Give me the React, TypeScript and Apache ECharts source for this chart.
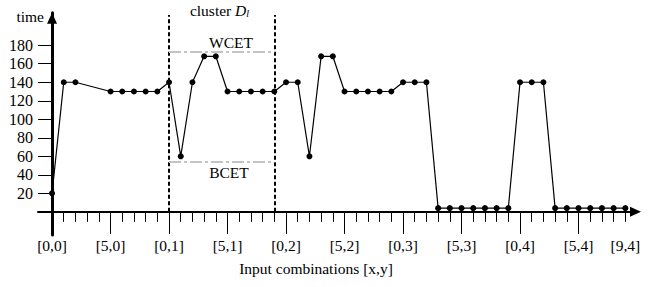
import React, { useEffect, useRef } from 'react';
import * as echarts from 'echarts';

// Execution time per input combination index (null = no measured point)
const timeValues: (number | null)[] = [
  20, 140, 140, null, null, 130, 130, 130, 130, 130,
  140, 60, 140, 168, 168, 130, 130, 130, 130, 130,
  140, 140, 60, 168, 168, 130, 130, 130, 130, 130,
  140, 140, 140, 4, 4, 4, 4, 4, 4, 4,
  140, 140, 140, 4, 4, 4, 4, 4, 4, 4,
];
const xLabelIndices = [0, 5, 10, 15, 20, 25, 30, 35, 40, 45, 49];
const xLabels = ['[0,0]', '[5,0]', '[0,1]', '[5,1]', '[0,2]', '[5,2]', '[0,3]', '[5,3]', '[0,4]', '[5,4]', '[9,4]'];
const xMajorTicks = [0, 5, 10, 15, 20, 25, 30, 35, 40, 45];
const yTicks = [20, 40, 60, 80, 100, 120, 140, 160, 180];
const clusterBounds = [10, 19];
const clusterTop = 212.5;
const wcet = 173;
const bcet = 54.5;

const FONT = 'Liberation Serif';
const FS = 15.5;

export default function App() {
  const ref = useRef<HTMLDivElement>(null);
  useEffect(() => {
    if (!ref.current) return;
    const chart = echarts.init(ref.current, undefined, { renderer: 'svg' });
    const xMin = -1.2;
    const xMax = 49.87;
    const yMin = -25;
    const yMax = 215;
    const gridPos = { left: 38, right: 22.5, top: 12.8, bottom: 52, outerBoundsMode: 'none', containLabel: false };
    const allIdx = timeValues.map((_, i) => i);
    const dashed = { color: '#000', width: 2, type: [4, 2.5] as any };
    const dashDot = { color: '#c4c4c4', width: 2, type: [12, 3, 3, 3] as any };
    const mk = (data: any[], lineStyle: any) => ({
      type: 'line',
      xAxisIndex: 0,
      yAxisIndex: 0,
      data: [],
      markLine: {
        silent: true,
        animation: false,
        symbol: ['none', 'none'],
        label: { show: false },
        lineStyle,
        data,
      },
    });
    chart.setOption({
      animation: false,
      grid: [
        { ...gridPos },
        { ...gridPos },
      ],
      xAxis: [
        {
          type: 'value',
          gridIndex: 0,
          min: xMin,
          max: xMax,
          splitLine: { show: false },
          axisLine: {
            onZero: true,
            symbol: ['none', 'triangle'],
            symbolSize: [10, 11],
            lineStyle: { color: '#000', width: 2 },
          },
          axisTick: { customValues: allIdx, length: 10, lineStyle: { color: '#000', width: 1 } },
          axisLabel: {
            customValues: xLabelIndices,
            formatter: (v: number) => {
              const k = xLabelIndices.indexOf(Math.round(v));
              return k >= 0 ? xLabels[k] : '';
            },
            margin: 2,
            fontFamily: FONT,
            fontSize: FS,
            color: '#000',
          },
        },
        {
          type: 'value',
          gridIndex: 1,
          min: xMin,
          max: xMax,
          splitLine: { show: false },
          axisLine: { onZero: true, lineStyle: { color: '#000', width: 2, opacity: 0 } },
          axisTick: { customValues: xMajorTicks, length: 22, lineStyle: { color: '#000', width: 1 } },
          axisLabel: { show: false },
        },
      ],
      yAxis: [
        {
          type: 'value',
          gridIndex: 0,
          min: yMin,
          max: yMax,
          splitLine: { show: false },
          axisLine: {
            onZero: true,
            symbol: ['none', 'triangle'],
            symbolSize: [10, 11],
            symbolOffset: [0, -5.5],
            lineStyle: { color: '#000', width: 3 },
          },
          axisTick: { customValues: yTicks, length: 14, lineStyle: { color: '#000', width: 1 } },
          axisLabel: {
            customValues: yTicks,
            margin: 5,
            fontFamily: FONT,
            fontSize: 16,
            color: '#000',
          },
        },
        {
          type: 'value',
          gridIndex: 1,
          min: yMin,
          max: yMax,
          show: false,
        },
      ],
      series: [
        mk(
          clusterBounds.map((b) => [{ coord: [b, 0] }, { coord: [b, clusterTop] }]),
          dashed
        ),
        mk(
          [
            [{ coord: [clusterBounds[0], wcet] }, { coord: [clusterBounds[1], wcet] }],
            [{ coord: [clusterBounds[0], bcet] }, { coord: [clusterBounds[1], bcet] }],
          ],
          dashDot
        ),
        {
          type: 'line',
          xAxisIndex: 0,
          yAxisIndex: 0,
          data: timeValues.map((v, i) => [i, v === null ? '-' : v]),
          connectNulls: true,
          symbol: 'circle',
          symbolSize: 6,
          showAllSymbol: true,
          itemStyle: { color: '#000' },
          lineStyle: { color: '#000', width: 1.2 },
          z: 5,
        },
      ],
      graphic: [
        {
          type: 'text',
          x: 44,
          y: 16,
          style: { text: 'time', font: `${FS}px "${FONT}"`, fill: '#000', align: 'right', verticalAlign: 'middle' },
        },
        {
          type: 'text',
          x: 219.5,
          y: 10,
          style: {
            text: '{a|cluster }{b|D}{c|l}',
            align: 'center',
            verticalAlign: 'middle',
            rich: {
              a: { fontFamily: FONT, fontSize: FS, fill: '#000', lineHeight: 17, verticalAlign: 'bottom' },
              b: { fontFamily: FONT, fontSize: FS, fontStyle: 'italic', fill: '#000', lineHeight: 17, verticalAlign: 'bottom' },
              c: { fontFamily: FONT, fontSize: 10, fontStyle: 'italic', fill: '#000', lineHeight: 11, verticalAlign: 'bottom' },
            },
          },
        },
        {
          type: 'text',
          x: 231,
          y: 42,
          style: { text: 'WCET', font: `${FS}px "${FONT}"`, fill: '#000', align: 'center', verticalAlign: 'middle' },
        },
        {
          type: 'text',
          x: 229,
          y: 172,
          style: { text: 'BCET', font: `${FS}px "${FONT}"`, fill: '#000', align: 'center', verticalAlign: 'middle' },
        },
        {
          type: 'text',
          x: 316,
          y: 268,
          style: { text: 'Input combinations [x,y]', font: `${FS}px "${FONT}"`, fill: '#000', align: 'center', verticalAlign: 'middle' },
        },
      ],
    });
    return () => chart.dispose();
  }, []);
  return (
    <div
      ref={ref}
      style={{ position: 'absolute', left: 0, top: 0, width: 658, height: 287, background: '#fff' }}
    />
  );
}
